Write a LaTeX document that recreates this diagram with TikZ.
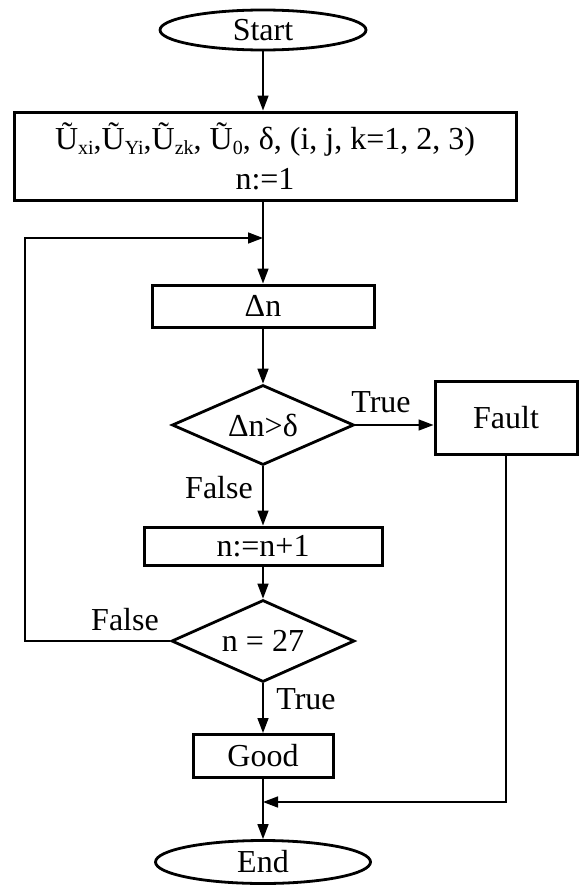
\documentclass[tikz,border=0pt]{standalone}
\usepackage{fontspec}
\setmainfont{Liberation Serif}
\usetikzlibrary{shapes.geometric,arrows.meta}
\newcommand\mainsz{\fontsize{32}{40}\selectfont}
\newcommand\subsz[1]{\raisebox{-0.35ex}{\fontsize{20}{20}\selectfont #1}}
\tikzset{
  every node/.style={font=\mainsz},
  boxnode/.style={draw, line width=3pt, rectangle, inner sep=0pt, align=center},
  termnode/.style={draw, line width=2.8pt, ellipse, inner sep=0pt},
  decnode/.style={draw, line width=2.8pt, diamond, aspect=2.3, inner sep=0pt},
  conn/.style={line width=1.5pt},
  arr/.style={conn, -{Triangle[length=15pt,width=11pt]}},
  lbl/.style={inner sep=0pt}
}
\begin{document}
\begin{tikzpicture}[x=1pt,y=-1pt]
\useasboundingbox (0,0) rectangle (585,886);
\node[termnode, minimum width=206pt, minimum height=40pt] (start) at (263,30) {Start};
\node[boxnode, minimum width=502pt, minimum height=88pt] (input) at (265,156)
  {Ũ\subsz{xi},Ũ\subsz{Yi},Ũ\subsz{zk}, Ũ\subsz{0}, δ, (i, j, k=1, 2, 3)\\n:=1};
\node[boxnode, minimum width=222pt, minimum height=42pt] (dn) at (263,306) {Δn};
\node[decnode, minimum width=182pt, minimum height=80pt] (d1) at (263,425) {Δn>δ};
\node[boxnode, minimum width=142pt, minimum height=73pt] (fault) at (506,418) {Fault};
\node[boxnode, minimum width=238pt, minimum height=38pt] (inc) at (263,546) {n:=n+1};
\node[decnode, minimum width=183pt, minimum height=82pt] (d2) at (263,641) {n = 27};
\node[boxnode, minimum width=140pt, minimum height=43pt] (good) at (263,756) {Good};
\node[termnode, minimum width=215pt, minimum height=43pt] (end) at (263,862) {End};

\coordinate (jtop) at (263,238);
\coordinate (jbot) at (263,802);
\coordinate (loopx) at (25,641);

\draw[arr] (start.south) -- (start.south |- input.north);
\draw[arr] (input.south -| dn.north) -- (dn.north);
\draw[arr] (d2.west) -- (loopx) |- (jtop);
\draw[arr] (dn.south) -- (d1.north);
\draw[arr] (d1.east) -- (d1.east -| fault.west);
\draw[arr] (d1.south) -- (inc.north);
\draw[arr] (inc.south) -- (d2.north);
\draw[arr] (d2.south) -- (good.north);
\draw[arr] (fault.south) |- (jbot);
\draw[arr] (good.south) -- (end.north);

\node[lbl] (ltrue1) at (381,402) {True};
\node[lbl] (lfalse1) at (219,488) {False};
\node[lbl] (lfalse2) at (125,620) {False};
\node[lbl] (ltrue2) at (306,699) {True};
\end{tikzpicture}
\end{document}
